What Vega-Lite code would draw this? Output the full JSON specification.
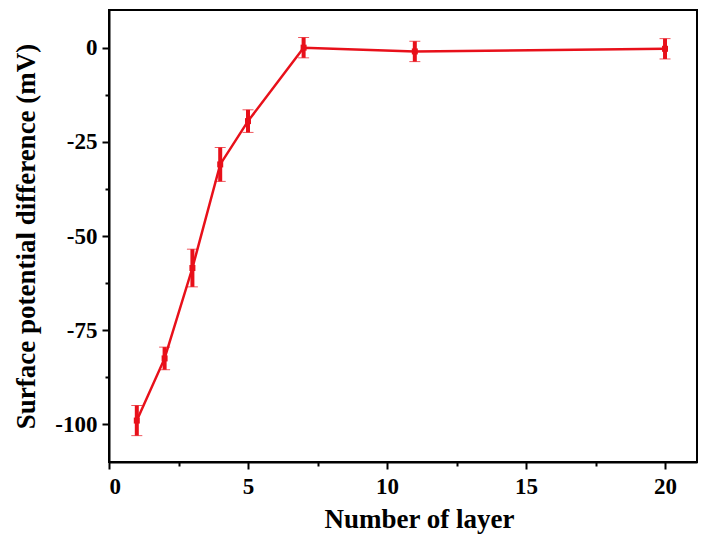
{
  "$schema": "https://vega.github.io/schema/vega-lite/v6.json",
  "autosize": "none",
  "width": 588,
  "height": 452,
  "padding": {"left": 109, "top": 10, "right": 15, "bottom": 85},
  "background": "white",
  "config": {
    "view": {"stroke": "black", "strokeWidth": 2},
    "axis": {
      "labelFont": "Liberation Serif",
      "titleFont": "Liberation Serif",
      "labelFontWeight": "bold",
      "titleFontWeight": "bold",
      "labelFontSize": 23,
      "titleFontSize": 27,
      "labelColor": "black",
      "titleColor": "black",
      "domainColor": "black",
      "tickColor": "black",
      "domainWidth": 2,
      "tickWidth": 2,
      "grid": false
    }
  },
  "data": {
    "values": [
      {"layer": 1, "value": -99, "err": 4},
      {"layer": 2, "value": -82.5, "err": 3},
      {"layer": 3, "value": -58.5, "err": 5},
      {"layer": 4, "value": -31, "err": 4.5},
      {"layer": 5, "value": -19.5, "err": 3},
      {"layer": 7, "value": 0, "err": 2.7},
      {"layer": 11, "value": -1, "err": 2.7},
      {"layer": 20, "value": -0.3, "err": 2.7}
    ]
  },
  "resolve": {"axis": {"x": "independent", "y": "independent"}},
  "layer": [
    {
      "mark": {"type": "line", "color": "#e8101a", "strokeWidth": 2.5},
      "encoding": {
        "x": {"field": "layer", "type": "quantitative", "scale": {"domain": [0, 21.15], "nice": false, "zero": false},
          "axis": {"values": [0, 5, 10, 15, 20], "labelExpr": "'' + datum.value", "tickSize": 7, "labelPadding": 6, "title": "Number of layer", "titlePadding": 8, "titleX": 310, "orient": "bottom"}},
        "y": {"field": "value", "type": "quantitative", "scale": {"domain": [-110, 10], "nice": false, "zero": false},
          "axis": {"values": [0, -25, -50, -75, -100], "labelExpr": "'' + datum.value", "tickSize": 7, "labelPadding": 5, "title": "Surface potential difference (mV)", "titlePadding": 14, "orient": "left"}}
      }
    },
    {
      "mark": {"type": "errorbar", "ticks": {"size": 11, "color": "#e8101a", "strokeWidth": 3.5}, "rule": {"color": "#e8101a", "strokeWidth": 4}},
      "encoding": {
        "x": {"field": "layer", "type": "quantitative", "axis": {"values": [2.5, 7.5, 12.5, 17.5], "tickSize": 4, "labels": false, "domain": false, "title": null, "orient": "bottom"}},
        "y": {"field": "value", "type": "quantitative", "axis": {"values": [-12.5, -37.5, -62.5, -87.5], "tickSize": 4, "labels": false, "domain": false, "title": null, "orient": "left"}},
        "yError": {"field": "err"}
      }
    },
    {
      "mark": {"type": "point", "shape": "square", "filled": true, "size": 36, "color": "#e8101a", "opacity": 1},
      "encoding": {
        "x": {"field": "layer", "type": "quantitative", "axis": null},
        "y": {"field": "value", "type": "quantitative", "axis": null}
      }
    }
  ]
}
